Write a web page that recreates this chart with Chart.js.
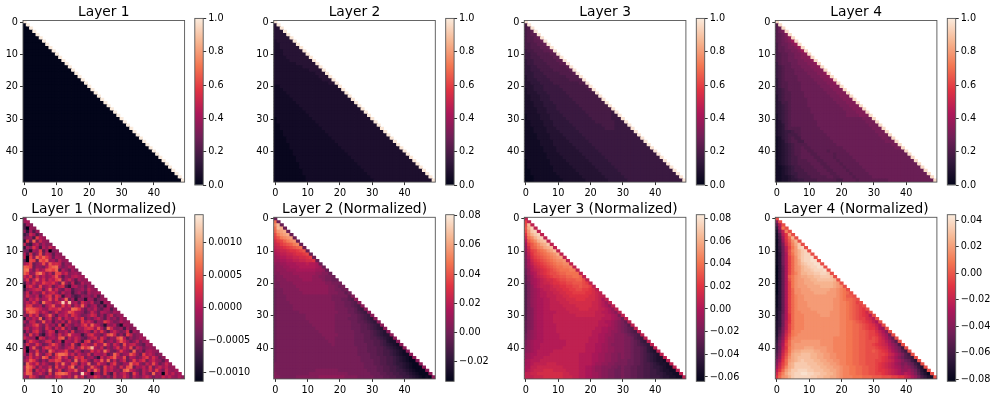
<!DOCTYPE html>
<html><head><meta charset="utf-8"><title>Layers</title>
<script src="https://cdn.jsdelivr.net/npm/chart.js@4"></script>
<style>html,body{margin:0;padding:0;background:#fff;width:997px;height:399px;overflow:hidden}canvas{position:absolute;filter:blur(0.35px)}</style>
</head><body>
<script>
// Each row holds the cells of one matrix row, read off the picture as base-36 levels
// (0 = bottom of that panel's colour bar, z = top). Spaces only group cells for reading.
const layer1Rows=["z","0z","00z","000z","0000z","00000z","000000z","0000000z","00000000z","000000000z","0000000000 z","0000000000 0z","0000000000 00z","0000000000 000z","0000000000 0000z","0000000000 00000z","0000000000 000000z","0000000000 0000000z","0000000000 00000000z","0000000000 000000000z","0000000000 0000000000 z","0000000000 0000000000 0z","0000000000 0000000000 00z","0000000000 0000000000 000z","0000000000 0000000000 0000z","0000000000 0000000000 00000z","0000000000 0000000000 000000z","0000000000 0000000000 0000000z","0000000000 0000000000 00000000z","0000000000 0000000000 000000000z","0000000000 0000000000 0000000000 z","0000000000 0000000000 0000000000 0z","0000000000 0000000000 0000000000 00z","0000000000 0000000000 0000000000 000z","0000000000 0000000000 0000000000 0000z","0000000000 0000000000 0000000000 00000z","0000000000 0000000000 0000000000 000000z","0000000000 0000000000 0000000000 0000000z","0000000000 0000000000 0000000000 00000000z","0000000000 0000000000 0000000000 000000000z","0000000000 0000000000 0000000000 0000000000 z","0000000000 0000000000 0000000000 0000000000 0z","0000000000 0000000000 0000000000 0000000000 00z","0000000000 0000000000 0000000000 0000000000 000z","0000000000 0000000000 0000000000 0000000000 0000z","0000000000 0000000000 0000000000 0000000000 00000z","0000000000 0000000000 0000000000 0000000000 000000z","0000000000 0000000000 0000000000 0000000000 0000000z","0000000000 0000000000 0000000000 0000000000 00000000z","0000000000 0000000000 0000000000 0000000000 000000000z"];
const layer2Rows=["z","4z","44z","444z","4444z","44444z","344444z","3344444z","33444444z","333444444z","3334444444 z","3333444444 4z","3333344444 44z","3333333444 444z","3333333334 4444z","3333333333 34444z","3333333333 333444z","3333333333 3333444z","3333333333 33333444z","3333333333 333333344z","2233333333 3333333333 z","2223333333 3333333333 3z","2222333333 3333333333 33z","2222233333 3333333333 333z","2222223333 3333333333 3333z","2222222333 3333333333 33333z","2222222233 3333333333 333333z","2222222223 3333333333 3333333z","2222222222 3333333333 33333333z","2222222222 2333333333 333333333z","1222222222 2233333333 3333333333 z","1222222222 2223333333 3333333333 3z","1122222222 2222333333 3333333333 33z","1122222222 2222233333 3333333333 333z","1112222222 2222223333 3333333333 3333z","1112222222 2222222333 3333333333 33333z","1111222222 2222222233 3333333333 333333z","1111222222 2222222223 3333333333 3333333z","1111122222 2222222222 3333333333 33333333z","1111122222 2222222222 2333333333 333333333z","1111112222 2222222222 2233333333 3333333333 z","1111112222 2222222222 2223333333 3333333333 3z","1111111222 2222222222 2222333333 3333333333 33z","1111111222 2222222222 2222233333 3333333333 333z","1111111122 2222222222 2222223333 3333333333 3333z","1111111122 2222222222 2222222333 3333333333 33333z","1111111112 2222222222 2222222233 3333333333 333333z","1111111112 2222222222 2222222223 3333333333 3333333z","1111111111 2222222222 2222222222 3333333333 33333333z","1111111111 2222222222 2222222222 2333333333 333333333z"];
const layer3Rows=["z","7z","78z","789z","7899z","7889az","78899az","778899az","7788899az","67788899az","6677888899 z","6677788889 9z","5667778888 99z","5667777888 899z","5566777788 8889z","5566677778 88889z","5556667777 788889z","4556666777 7778888z","4555666677 77778888z","4455566667 777777788z","4445556666 6777777778 z","3445556666 6677777777 8z","3444555666 6667777777 77z","3344455566 6666777777 777z","3344455566 6666677777 7777z","3334445556 6666667777 77777z","3334445555 6666666777 777777z","3333444555 6666666677 7777777z","3333444555 5666666667 77777776z","2333344455 5566666666 777777766z","2333344455 5556666666 6777777666 z","2233334445 5555666666 6677777766 6z","2233334445 5555566666 6666777766 66z","2223333444 5555556666 6666677766 666z","2223333444 4555555666 6666666666 6666z","2222333344 4455555566 6666666666 66666z","2222333344 4445555556 6666666666 666666z","2222233334 4444555555 6666666666 6666666z","2222233334 4444455555 5666666666 66666666z","2222223333 4444445555 5566666666 666666666z","2222223333 4444444555 5556666666 6666666666 z","2222222333 3444444455 5555666666 6666666666 6z","2222222333 3344444445 5555566666 6666666666 66z","1222222233 3334444444 5555556666 6666666666 666z","1222222233 3333444444 4555555666 6666666666 6666z","1222222223 3333344444 4455555566 6666666666 66666z","1122222223 3333334444 4445555556 6666666666 666666z","1122222222 3333333444 4444555555 6666666666 6666666z","1112222222 2333333344 4444455555 5666666666 66666666z","1112222222 2233333334 4444445555 5566666666 666666666z"];
const layer4Rows=["z","9z","9bz","9bcz","9abdz","9abcez","9abcdfz","8abbcdfz","8aabccdfz","8aabbccdfz","89aabbccde z","89aabbccdd ez","89aabbbccd dez","79aaabbccc ddez","789aabbbcc cddez","789aaabbbc ccdddz","789aaabbbb cccddez","789aaaabbb bcccddez","689aaaabbb bbcccddez","6899aaaabb bbbcccddez","6899aaaabb bbbbcccddd z","6789aaaabb bbbbbcccdd dz","67899aaaab bbbbbbcccd ddz","57899aaaab bbbbbbbccc dddz","57899aaaaa bbbbbbbbcc cdddz","56889aaaaa bbbbbbbbbc ccdddz","56789aaaaa bbbbbbbbbb cccdddz","56789aaaaa abbbbbbbbb bcccdddz","56789aaaaa abbbbbbbbb bbcccdddz","46789aaaaa aabbbbbbbb bbccccdddz","46789aaaaa aabbbbbbbb bbbbbbbccc z","45789aaaaa aaabbbbbbb bbbbbbbbcc cz","45689aaaaa aaabbbbbbb bbbbbbbbbc ccz","45689999aa aaaabbbbbb bbbbbbbbbb cccz","45677899aa aaaaabbbbb bbbbbbbbbb bcccz","45678889aa aaaaaabbbb bbbbbbbbbb bbcccz","34678988aa aaaaaaabbb bbbbbbbbbb bbbccbz","345789988a aaaaaaaabb bbbbbbbbbb bbbbcccz","3456789999 aaaaaaaaab bbbbbbbbbb bbbbbbccz","34567899a9 9aaaaaaaaa abbbbbbbbb bbbbbbbccz","34567899aa 99aaaa9aaa aabbbbbbbb bbbbbbbbbb z","34567899aa a99aaaaa9a aaabbbbbbb bbbbbbbbbb bz","34567889aa aa99aaaa9a aaaabbbbbb bbbbbbbbbb bbz","3456788999 aaa99aaaa9 aaaaabbbbb bbbbbbbbbb bbbz","3456788999 9aaa99aaaa 9aaaaabbbb bbbbbbbbbb bbbbz","3345678899 99aaa99aaa a9aaaaabbb bbbbbbbbbb bbbbbz","3345678889 999aaa99aa aa9aaaaabb bbbbbbbbbb bbbbbbz","3345677888 9999aaa99a aaa9aaaaab bbbbbbbbbb bbbbbbbz","3344567888 899999aa99 aaaa9aaaaa bbbbbbbbbb bbbbbbbbz","3344566778 8889999998 8aaaa9aaaa aaaaabbbbb bbbbbbbbbz"];
const norm1Rows=["f","gh","9gf","a2gf","f7hag","8ckhaf","cfg9nig","6mcqdkgf","ja8gjdhef","7hemh9ifkg","dc6hfnbh2e f","i9lcgodjhb gf","j2nfqmqmic hgf","c1oncpnqgh djfg","hjncfhogpk ljcgf","qpncgfdioq rhdfig","rshdkgiopn qbifche","qnfgpslfjd onhkeghf","khmdlgjfhk pibgeijhg","gmdjphlfki npdhkgbhfg","9iflghnkjm hdqgcjacif g","2jmhenfhkc gjlb7hiegc hf","8fhjlkdipg kecihaefhd jgf","dkcigemgjl hcjfg9ehdb ifgh","elhfjbgkne mj8ghc9bge gdhaf","gcjhlfhiog mehqcg7fe6 hg9dfg","fjgmhcrkjf ikzjxgiclh fjcd6hg","emnfgibhkp gfnhkdjgqh cgibe7hf","hqpomjgflj kngihrqmgc hfjdbghaf","dnqplgkhcg lfhjpnihfb ekgcihfdhg","gdmhlcfjpg bihkfmjgde hljcgbhkdf g","6ifjgqbhlc gmdjhfkhmc gdhjfbiegc hf","hcjkdfpgib hejclfgdmh khbgfnkgde ifg","bfhlogdkfh cm7jgdhfkn gqjhd6gfib 5hgf","gjeikfclhb jgndhc9hgk mlgohbqkfe g9hdf","9hdkmfbhlj 8gfidlcegj hckgmfbhkg dfl8hf","hcnfjb7gkh dlfjqihg8e kmgfchoqkc gbnjdfg","khfg6ljdhi foqcjgkhdb gjlemhcgfo ribgdfhg","7gnjhdfklc gj6ihflg9k ncgjmcfhdj pkgcfjdgh","dlgfmhcejo kgbhfnd9lj gfmghqidkh cogjkfdbhg","g4hpfcjnlg kfdhjmeiql pxhfkcgdhm ekgocjhdfg f","j2gfmdhcqk gijnfdkhbf emhkgrjdcg nhfcqegbhi gf","hblfpgdjmc nrrphkejgf lcihgjbeqk dghplfcnhj gdf","dhmgjfqncg lphkcfnjmd ghc7kfjmqh gocihdfkng lhcf","fjpmgchdlk onfhjdrgmk fcjhpgqekd hlcfngjmdh kgfbh","bqkhmfjgdc lgrhfnkcjh qdfmhgbjne cghrkmfdjg ohcfkg","hrpkdjfglc ngjfmrchkd gpjfcnhkgd lfoqchgjem dhkgjfg","gqnbkhjfrd hmcgkjpfhd ngqkcmhjfg dprkhecjgl fnhdkgfh","jqpfhkgcmd oqrpjfhdzk g2fhcmd9ke hkgbnhcjfd qfh2kgjfh","hfnkgcdjhf kmhgjfqhkc ghmjfdhckf glhcjgeikh dgfkhjgfif"];
const norm2Rows=["a","pa","rva","pvua","ostua","mqstua","lnqrsta","jlmoqrsa","ijlmnoqra","hijklmnopa","ghiijkklmn a","fghhiijkkl ma","efgghhiijj kla","eeffgghhii jjka","ddeefffggg hggfa","cddeefffgg gggfea","cdddeeefff fffeeda","ccddddeeee eeeddcca","bccdddddee eeddccbba","bcccddddde eedddcbbaa","bbccccdddd ddddddccbb b","bbcccccddd dddddddccb ab","abbcccccdd dddddddccb bab","abbccccccd dddddddccc bb9b","abbbcccccc ccccccccbb bbb9c","abbbcccccc ccccccccbb baa98d","abbbbccccc cccccccccb bbaa98d","abbbbbcccc cccccccccb bbaa987d","abbbbbcccc cccccccccb bbbaa976d","abbbbbbbcc cccccccccc bbbaa9876d","abbbbbbbbb cccccccccb bbbbaa9876 d","abbbbbbbbb cccccccccb bbbaaa9876 5d","abbbbbbbbb bccccccccb bbbbaa9987 65d","abbbbbbbbb bbcccccccb bbbbaaa998 765d","abbbbbbbbb bbbccccccb bbbbaaa998 7654d","abbbbbbbbb bbbbcccccb bbbbbaa999 87654d","abbbbbbbbb bbbbbccccc bbbbbaaa99 876544d","abbbbbbbbb bbbbbbcccb bbbbbaaa99 8876543d","abbbbbbbbb bbbbbbbccb bbbbbaaa99 98876433d","abbbbbbbbb bbbbbbbbcb bbbbbaaaa9 988765432d","abbbbbbbbb bbbbbbbbbb bbbbbbaaa9 9988765432 d","abbbbbbbbb bbbbbbbbbb bbbbbbaaa9 9988776543 2d","abbbbbbbbb bbbbbbbbbb bbbbbbaaaa 9988776543 22d","abbbbbbbbb bbbbbbbbbb bbbbbbbaaa 9998877654 321d","abbbbbbbbb bbbbbbbbbb bbbbbbbaaa a998877654 3211d","bbbbbbbbbb bbbbbbbbbb bbbbbbbbaa a998877655 43211d","bbbbbbbbbb bbbbbbbbbb bbbbbbbbaa aa99887765 432111d","bbbbbbbbbb bbbccccccc bbbbbbbbba aa99887766 5432111d","cbbbbbbbbb bccccccccc cccbbbbbbb aaa9988776 65432111d","ccbbbbbccc ccccdddddd ddccccbbbb baaa998877 665432121d"];
const norm3Rows=["g","kg","lug","mtwg","lrvwg","jqtvwg","hoqtvwg","fmoqtuvg","dkmoqstvg","cimnpqstug","chklnoprsu g","bgjlmnopqr tg","bfiklmnopq rsg","aehjklmnop qqrg","aegijklmno ppqqg","adfhijklmn ooppqg","9cfghijklm noooppg","9cefhijkll mnnoooog","8bdfghijkl lmmnnoong","8bdefghiij kllmmmnnlg","8adefghhij jkkllmmmlk g","7acefggghi ijjkkllmll kg","7acdefgghh iijjkkllkk jig","7acdeffggh hiijjkkkkj jihg","7acdeffggg hhiijjjjjj iihgg","7acdeeffgg hhhiiijjji iihgeg","7acdeeffgg ghhhiiiiii ihhgfdg","7acdeeffgg gghhhhiiii ihhgfecg","7abdeeffgg ggghhhhiii hhhggfecg","7abdeeffff gggghhhhhh hhggffedbg","7abdeefffg gggggghhhh hhgggffeda g","7abdeefffg gggggggggg ggggfffedc 9g","8abdeefffg gggggggggg gggffeedcb a8g","8abdeeffff gggggggggg gggfffedcb a97g","8abdeeffff gggggggggg ggffeeddcb a987g","8bcdeeffff gggggggggg gfffeedccb a9876g","9bcdeeffff fggggggggg gffeeddcbb ba9876g","9bcdeeffff fggggggggg fffeedccbb baa9765g","acdeeeffff fffggggggg fffeedccbb baa98754g","acdeefffff fffggggggf ffeeddcbbb baa987654g","bcdeefffff ffgggggggf ffeeddccbb baa9887643 g","bcdefffffg gggggggggf ffeeddccbb baa9887643 2g","cdeeffffgg gggggggfff feeddccbba baa9887654 32g","cdefffgggg gggggggfff feeddccbba baa9887654 322g","defffggggg gggggggfff feeddccbba aa99887654 3221g","defgggghhh gggggggfff feddccbbaa aa99887665 43221g","eegghhhhhh hhgggggffe edccbbbaa9 a998877665 443211g","efghhhiiih hhhggggffe edccbbaa99 a998877665 5432211g","gghhiiiiii iihhgggffe eddcbbaa99 a998877665 54432211g","ggghhhiiii iihhhggffe eddcbbaa99 a998877665 554332211g"];
const norm4Rows=["m","cm","8gm","5epm","3bhqm","28gksm","27ekoum","16djnrum","16bimqtwm","15aglpswxm","15agmqsuwx m","14afmpsuwx xm","14afloruwx xym","14aflortwx xyym","14aflortvw xxyym","049florsuv wxxyym","049florsuv vwxxxym","049floqsuu vvwwxxwm","049fnprstt uuvvwwwvm","049fmprsst tuuvvvvvum","049flprsst ttuuuuuuts m","049flprsss ttttuuuuts rm","049florrss sttttttssr qpm","049florrss ssttttsssr qpom","149floqrrs sssssssssr qpnnm","149floqrrs ssssssssrr qpoonm","149floqrrr ssssssssrr qqponlm","149floqrrr ssssssssrr qqponmlm","249floqrrr rsssssssrr qqponmlkm","259floqqrr rrrssssrrr qqponmlkim","25afkoqqqr rrrrsssrrr qqponmlkjg m","25afkoqqqr rrrrrrrrrr qqponmllji gm","35agkoqqqr rrrrrrrrrr qqpponmlkj hfm","35agloqqqr rrrrrrrrrr qqppoonmlk jhfm","36bgloqqqr rrrrrrrrrr qqppoonmlk kifdm","37bhlpqqrr rrrrrrrrrr qqppoonnml ljhfcm","38cimpqrrr rrrrrrrrrr qqppoonnml lkigeam","49djnqrrrr rrrrrrrrqq qqppoonnml mljhfc9m","5aekorrrss ssssrrrrqq qqppoonnmm mljigeb8m","6bflorssss ssssrrrrqq qqppoonnmm lkjihfdb7m","6agkprssst ttssssrrqq qqppoonnmm mlkjigeca6 m","7bhlpsttuu uuttssrrqq qqppoonnmm nmlkjhfdb8 6m","8cimqtuuvv vuuttssrrq qqppoonnmm mmllkihfdb 86m","9djnrtuvvv vuuttssrrq qqppoonnmm mmlkjhgeca 875m","bfkostuvwv vvuuttssrr qqppoonnmm mllkjihfec a964m","chlotuwwww vvvuuttssr qqppoonnmm mlkjihgedb ca964m","eimqtuwwww wvvvuuttss rqqppoonnm mlkjihgfec dca853m","gkosuwwxxx wwvvvuutts rqqppoonnm mlkkjihgfd deca742m","inqtvwxxyy xxwwvvuuts rqqppoonnm mllkjihgfe gfdb8531m","korsuwxxxx xwwvvuutts rqqqpppooo nnnmmmllkk ihfda7532m"];

const panelTitles=["Layer 1","Layer 2","Layer 3","Layer 4","Layer 1 (Normalized)","Layer 2 (Normalized)","Layer 3 (Normalized)","Layer 4 (Normalized)"];
const panelRows=[layer1Rows,layer2Rows,layer3Rows,layer4Rows,norm1Rows,norm2Rows,norm3Rows,norm4Rows];
const levelOffset=[0,-0.4,-0.6,-1.5,-2.5,-0.5,0.7,0];
const rangeMin=[0,0,0,0,-0.001136,-0.0337,-0.0638,-0.0817];
const rangeMax=[1,1,1,1,0.001435,0.0808,0.0832,0.044];
const axisTicks=[0,10,20,30,40];
const unitTicks=[0,0.2,0.4,0.6,0.8,1];
const barTicks=[unitTicks,unitTicks,unitTicks,unitTicks,[-0.001,-0.0005,0,0.0005,0.001],[-0.02,0,0.02,0.04,0.06,0.08],[-0.06,-0.04,-0.02,0,0.02,0.04,0.06,0.08],[-0.08,-0.06,-0.04,-0.02,0,0.02,0.04]];
const barDigits=[1,1,1,1,4,2,2,2];
const rocketColors=["#03051a","#35193e","#701f57","#ad1759","#e13342","#f37651","#f6b48f","#faebdd"];

const rgb=h=>[1,3,5].map(i=>parseInt(h.substr(i,2),16));
const rocketRgb=rocketColors.map(rgb);
function rocket(t){
  const p=Math.min(Math.max(t,0),1)*(rocketRgb.length-1),i=Math.min(Math.floor(p),rocketRgb.length-2),f=p-i;
  const c=rocketRgb[i].map((v,k)=>Math.round(v+(rocketRgb[i+1][k]-v)*f));
  return `rgb(${c[0]},${c[1]},${c[2]})`;
}
const FONT="'DejaVu Sans'";
const INK='#000';
const frame={id:'frame',afterDraw(ch){const a=ch.chartArea,c=ch.ctx;c.save();c.strokeStyle='#555';c.lineWidth=0.9;c.strokeRect(a.left,a.top,a.width,a.height);c.restore();}};
function mk(l,t,w,h){const c=document.createElement('canvas');c.width=w;c.height=h;c.style.cssText=`left:${l}px;top:${t}px;width:${w}px;height:${h}px`;document.body.appendChild(c);return c;}
const setTicks=list=>s=>{s.ticks=list.map(v=>({value:v}));};

const plotLeft=[23,273.7,524.3,775.3];
const barLeft=[194.8,445.7,696.3,947.3];
const PLOT=161.6,BARW=8.4;

panelRows.forEach((rows,p)=>{
  const col=p%4,row=p>3?1:0;
  const vmin=rangeMin[p],vmax=rangeMax[p];
  const cells=[];
  rows.forEach((str,r)=>{[...str.replace(/ /g,'')].forEach((ch,c)=>{cells.push({x:c,y:r,v:vmin+(parseInt(ch,36)+levelOffset[p])/35*(vmax-vmin)});});});
  const L=250*col,T=row?197:0,W=190,H=row?202:199;
  const top=row?20.3:20.5;
  const ax=plotLeft[col]-L;
  new Chart(mk(L,T,W,H),{
    type:'scatter',
    data:{datasets:[{data:cells,pointStyle:'rect',borderWidth:0,pointBorderWidth:0,
      pointRadius:c=>((c.chart.chartArea?c.chart.chartArea.width:PLOT)/50+0.8)/Math.SQRT2,
      pointBackgroundColor:c=>rocket((c.raw.v-vmin)/(vmax-vmin))}]},
    options:{responsive:false,animation:false,events:[],parsing:false,normalized:true,
      layout:{autoPadding:false,padding:{left:0,top:0,bottom:0,right:W-ax-PLOT}},
      plugins:{legend:{display:false},tooltip:{enabled:false},
        title:{display:true,fullSize:false,text:panelTitles[p],color:INK,font:{family:FONT,size:13.8,weight:'normal',lineHeight:1.2},padding:{top:top-16.56,bottom:0}}},
      scales:{
        x:{type:'linear',min:-0.5,max:49.5,bounds:'data',afterBuildTicks:setTicks(axisTicks),
          afterFit:s=>{s.height=H-top-PLOT;},
          grid:{drawOnChartArea:false,tickLength:3,tickColor:'#333'},border:{display:false},
          ticks:{color:INK,font:{family:FONT,size:9.7},padding:3,maxRotation:0,autoSkip:false,callback:v=>String(v)}},
        y:{type:'linear',min:-0.5,max:49.5,reverse:true,bounds:'data',afterBuildTicks:setTicks(axisTicks),
          afterFit:s=>{s.width=ax;},
          grid:{drawOnChartArea:false,tickLength:3,tickColor:'#333'},border:{display:false},
          ticks:{color:INK,font:{family:FONT,size:9.7},padding:2,autoSkip:false,callback:v=>String(v)}}
      }},
    plugins:[frame]
  });
  // colour bar
  const BL=[190,440,691,942][col],BW=col===3?55:60;
  const pad=barLeft[col]-BL;
  const bt=row?17.7:18.4,bh=166.6;
  new Chart(mk(BL,T,BW,H),{
    type:'bar',
    data:{labels:[''],datasets:[{data:[[vmin,vmax]],barPercentage:1,categoryPercentage:1,borderWidth:0,
      backgroundColor:c=>{const a=c.chart.chartArea;if(!a)return rocketColors[0];const g=c.chart.ctx.createLinearGradient(0,a.bottom,0,a.top);rocketColors.forEach((h,i)=>g.addColorStop(i/(rocketColors.length-1),h));return g;}}]},
    options:{responsive:false,animation:false,events:[],
      layout:{autoPadding:false,padding:{left:pad,top:bt,bottom:H-bt-bh,right:0}},
      plugins:{legend:{display:false},tooltip:{enabled:false},title:{display:false}},
      scales:{
        x:{display:false},
        y:{type:'linear',position:'right',min:vmin,max:vmax,bounds:'data',afterBuildTicks:setTicks(barTicks[p]),
          afterFit:s=>{s.width=BW-pad-BARW;},
          grid:{drawOnChartArea:false,tickLength:3,tickColor:'#333'},border:{display:false},
          ticks:{color:INK,font:{family:FONT,size:9.7},padding:2,autoSkip:false,callback:v=>v.toFixed(barDigits[p]).replace('-','\u2212')}}
      }},
    plugins:[frame]
  });
});
</script>
</body></html>
